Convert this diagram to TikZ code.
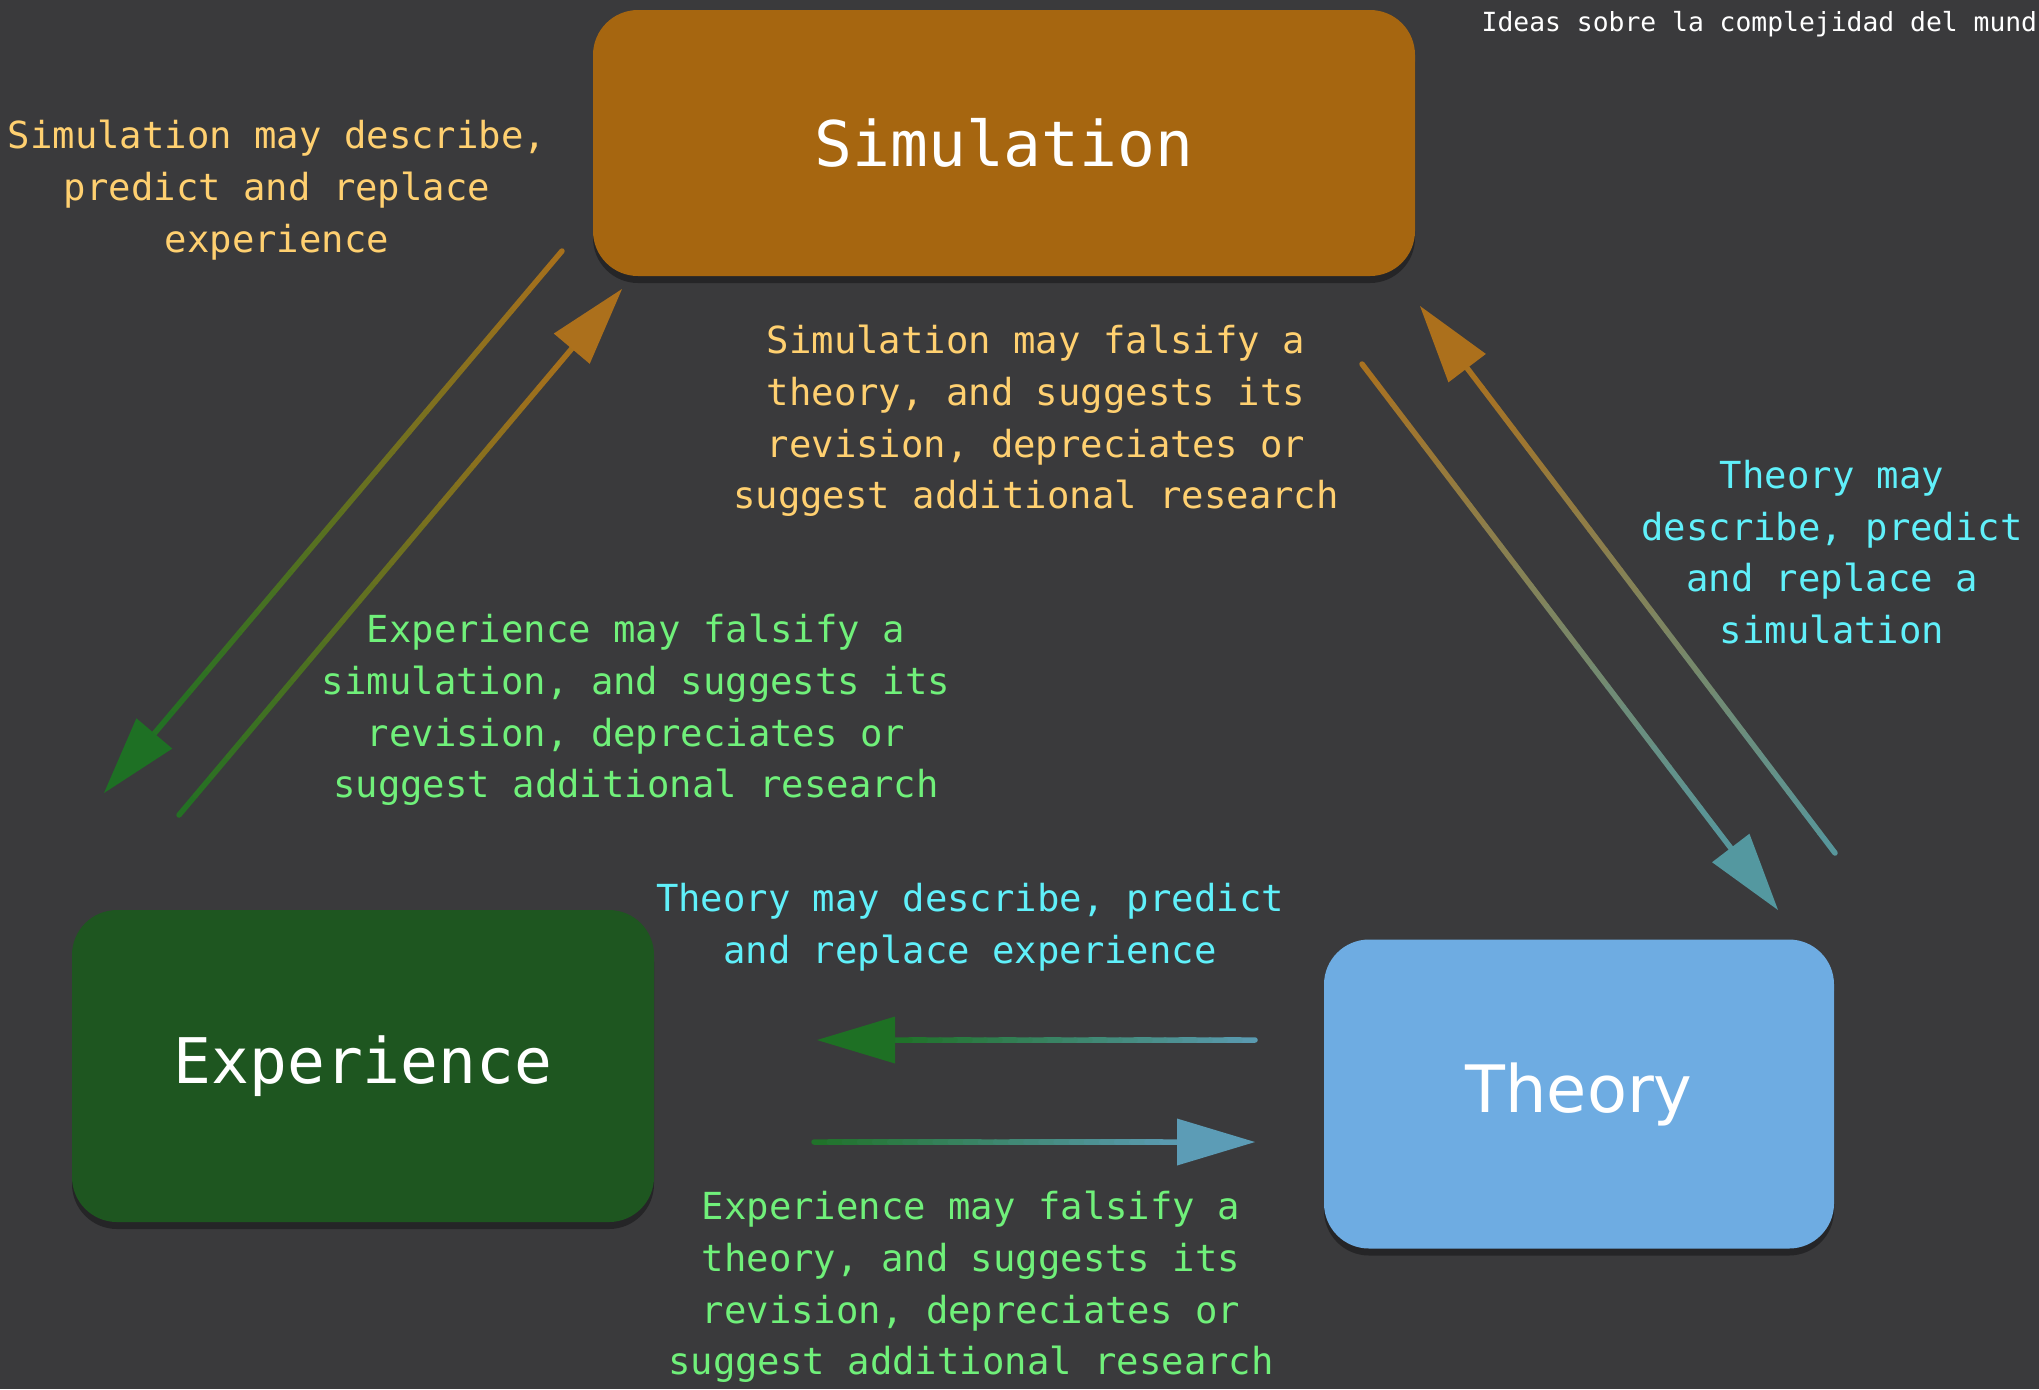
\documentclass[tikz,border=0pt]{standalone}
\usepackage{fontspec}
\usetikzlibrary{calc,shadows}
\newfontfamily\Mono{DejaVu Sans Mono}
\newfontfamily\Sans{DejaVu Sans}
\definecolor{BG}{RGB}{58,58,60}
\definecolor{SIMFILL}{RGB}{166,102,16}
\definecolor{EXPFILL}{RGB}{30,86,32}
\definecolor{THEOFILL}{RGB}{110,172,226}
\definecolor{SIMTEXT}{RGB}{255,208,112}
\definecolor{EXPTEXT}{RGB}{112,240,122}
\definecolor{THEOTEXT}{RGB}{96,240,250}
\definecolor{SIMARROW}{RGB}{172,112,28}
\definecolor{EXPARROW}{RGB}{30,112,36}
\definecolor{THEOARROW}{RGB}{84,152,160}
\definecolor{THEOARROWB}{RGB}{92,156,182}
\tikzset{
BOX/.style={rounded corners=4.5mm, inner sep=0pt, text=white,
	drop shadow={shadow xshift=0pt, shadow yshift=-0.7mm, fill=black, opacity=0.35}},
TITLE/.style={font=\Mono\fontsize{17.9}{21}\selectfont},
LABEL/.style={align=center, inner sep=0pt, font=\Mono\fontsize{10.6}{14.7}\selectfont},
SHAFT/.style={line width=0.55mm, line cap=round},
}
% shaft with colour running from #3 to #4, head in #4
\newcommand{\GRADARROW}[4]{%
	\coordinate (base) at ($(#2)!7.8mm!(#1)$);
	\foreach \k in {1,...,24}{%
		\pgfmathtruncatemacro\p{100-4*\k}
		\pgfmathsetmacro\ta{(\k-1)/24}
		\pgfmathsetmacro\tb{\k/24}
		\draw[SHAFT, draw=#3!\p!#4] ($(#1)!\ta!(base)$) -- ($(#1)!\tb!(base)$);
	}
	\fill[#4] (#2) -- ($(base)!2.35mm!90:(#2)$) -- ($(base)!2.35mm!-90:(#2)$) -- cycle;
}

\begin{document}
\begin{tikzpicture}[x=0.1mm,y=-0.1mm]
	\useasboundingbox (0,0) rectangle (2039,1389);
	\fill[BG] (0,0) rectangle (2039,1389);
	%Arrow ends
	\coordinate (se-s) at (562,251);   \coordinate (se-t) at (104,793);
	\coordinate (es-s) at (179,815);   \coordinate (es-t) at (622,289);
	\coordinate (st-s) at (1362,364);  \coordinate (st-t) at (1778,910);
	\coordinate (ts-s) at (1835,853);  \coordinate (ts-t) at (1420,306);
	\coordinate (te-s) at (1255,1040); \coordinate (te-t) at (817,1040);
	\coordinate (et-s) at (814,1142);  \coordinate (et-t) at (1255,1142);
	%Arrows
	\GRADARROW{se-s}{se-t}{SIMARROW}{EXPARROW}
	\GRADARROW{es-s}{es-t}{EXPARROW}{SIMARROW}
	\GRADARROW{st-s}{st-t}{SIMARROW}{THEOARROW}
	\GRADARROW{ts-s}{ts-t}{THEOARROW}{SIMARROW}
	\GRADARROW{te-s}{te-t}{THEOARROWB}{EXPARROW}
	\GRADARROW{et-s}{et-t}{EXPARROW}{THEOARROWB}
	%Boxes
	\node[BOX, TITLE, fill=SIMFILL, minimum width=82.2mm, minimum height=26.6mm]
		(sim) at (1004,143) {Simulation};
	\node[BOX, TITLE, fill=EXPFILL, minimum width=58.2mm, minimum height=31.2mm]
		(exp) at (363,1066) {Experience};
	\node[BOX, fill=THEOFILL, minimum width=51mm, minimum height=30.9mm,
		font=\Sans\fontsize{18.6}{22}\selectfont] (theo) at (1579,1094) {Theory};
	%Labels
	\node[LABEL, text=SIMTEXT] (simdesc) at (277,190)
		{Simulation may describe,\\predict and replace\\experience};
	\node[LABEL, text=SIMTEXT] (simfals) at (1036,421)
		{Simulation may falsify a\\theory, and suggests its\\revision, depreciates or\\suggest additional research};
	\node[LABEL, text=THEOTEXT] (theodescsim) at (1832,552)
		{Theory may\\describe, predict\\and replace a\\simulation};
	\node[LABEL, text=EXPTEXT] (expfalssim) at (636,710)
		{Experience may falsify a\\simulation, and suggests its\\revision, depreciates or\\suggest additional research};
	\node[LABEL, text=THEOTEXT] (theodescexp) at (970,927)
		{Theory may describe, predict\\and replace experience};
	\node[LABEL, text=EXPTEXT] (expfalstheo) at (971,1287)
		{Experience may falsify a\\theory, and suggests its\\revision, depreciates or\\suggest additional research};
	\node[anchor=west, inner sep=0pt, text=white, font=\Mono\fontsize{7.5}{9}\selectfont]
		(ideas) at (1481,24) {Ideas sobre la complejidad del mund};
\end{tikzpicture}
\end{document}
